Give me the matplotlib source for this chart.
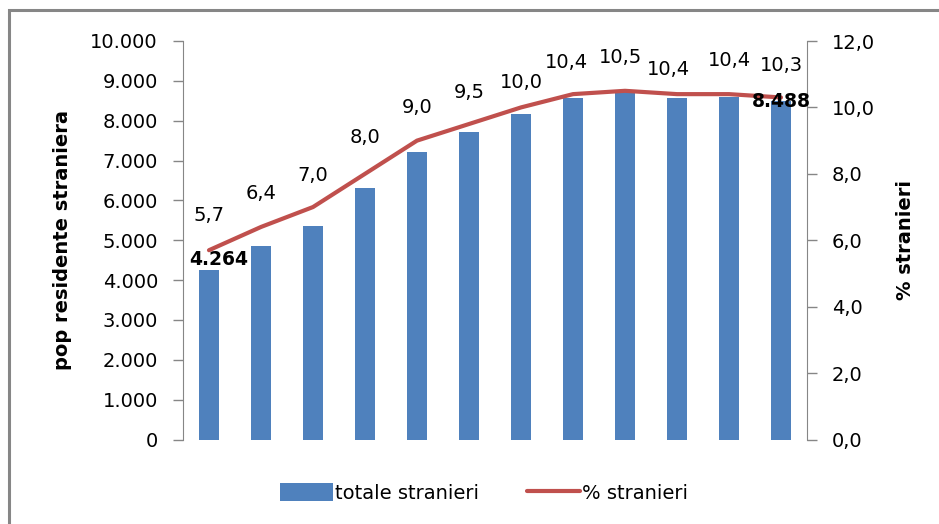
import matplotlib.pyplot as plt
from matplotlib.patches import Rectangle
from matplotlib.ticker import FuncFormatter

plt.rcParams['font.family'] = ['DejaVu Sans']

anni = list(range(12))
totale_stranieri = [4264, 4862, 5364, 6319, 7224, 7726, 8178, 8580, 8739, 8580, 8598, 8488]
perc_stranieri = [5.7, 6.4, 7.0, 8.0, 9.0, 9.5, 10.0, 10.4, 10.5, 10.4, 10.4, 10.3]

blue = '#4f81bd'
red = '#c0504d'
grey = '#868686'
fs = 14

fig = plt.figure(figsize=(9.39, 5.24), dpi=100)
# outer chart border (top and left visible)
fig.patches.append(Rectangle((9 / 939, -0.05), 1.2, 1 - 10 / 524 + 0.05,
                             transform=fig.transFigure, fill=False,
                             edgecolor=grey, linewidth=2.2))

ax = fig.add_axes([183 / 939, 1 - 439.5 / 524, (807 - 183) / 939, (439.5 - 41) / 524])
ax2 = ax.twinx()

bars = ax.bar(anni, totale_stranieri, width=0.4, color=blue, label='totale stranieri', zorder=2)
line, = ax2.plot(anni, perc_stranieri, color=red, linewidth=3, solid_joinstyle='round',
                 solid_capstyle='round', label='% stranieri')

ax.set_xlim(-0.5, 11.5)
ax.set_ylim(0, 10000)
ax.set_yticks(range(0, 10001, 1000))
ax.yaxis.set_major_formatter(FuncFormatter(lambda v, p: f'{int(v):,}'.replace(',', '.')))
ax2.set_ylim(0, 12)
ax2.set_yticks(range(0, 13, 2))
ax2.yaxis.set_major_formatter(FuncFormatter(lambda v, p: f'{v:.1f}'.replace('.', ',')))
ax.set_xticks([])

for a in (ax, ax2):
    a.spines['top'].set_visible(False)
    a.spines['bottom'].set_visible(False)
    a.tick_params(axis='y', length=7, width=1, color=grey, labelsize=fs, pad=11)
ax.spines['left'].set_color(grey)
ax.spines['right'].set_visible(False)
ax2.spines['left'].set_visible(False)
ax2.spines['right'].set_color(grey)

ax.set_ylabel('pop residente straniera', fontsize=fs, fontweight='bold')
ax.yaxis.set_label_coords(-(183 - 72) / 624, 0.5)
ax2.set_ylabel('% stranieri', fontsize=fs, fontweight='bold')
ax2.yaxis.set_label_coords(1 + (896 - 807) / 624, 0.5)

# label offsets (points) as placed in the original chart
off_x = [0, 0, 0, 0, 0, 0, 0, -5, -3, -6, 0, 0]
off_y = [25, 24, 23, 26, 24, 23, 18, 23, 24, 18, 24, 23]
for x, v, dx, dy in zip(anni, perc_stranieri, off_x, off_y):
    ax2.annotate(f'{v:.1f}'.replace('.', ','), (x, v), xytext=(dx, dy),
                 textcoords='offset points', ha='center', va='center', fontsize=fs)

ax.annotate(f'{totale_stranieri[0]:,}'.replace(',', '.'), (anni[0], totale_stranieri[0]),
            xytext=(7, 7), textcoords='offset points', ha='center', va='center',
            fontsize=13.5, fontweight='bold', zorder=5)
ax2.annotate(f'{totale_stranieri[-1]:,}'.replace(',', '.'),
             (anni[-1], totale_stranieri[-1] / 10000 * 12),
             xytext=(0, 0), textcoords='offset points', ha='center', va='center',
             fontsize=13.5, fontweight='bold', zorder=5)

fig.legend(handles=[bars, line], loc='center', bbox_to_anchor=(484 / 939, 1 - 493 / 524),
           ncol=2, frameon=False, fontsize=fs, handlelength=2.7, handleheight=1.0,
           handletextpad=0.1, columnspacing=2.5)

fig.savefig('out.png', dpi=100)
